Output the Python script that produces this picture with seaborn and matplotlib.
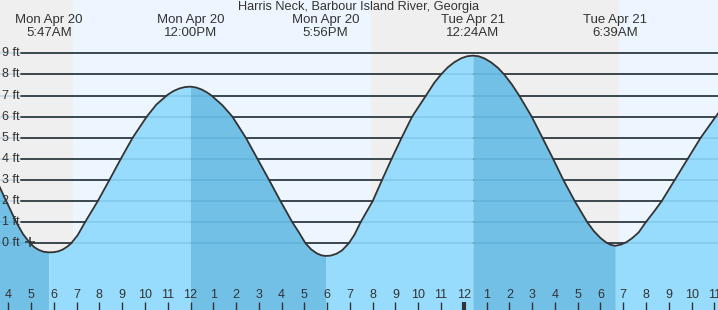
import matplotlib
matplotlib.use("Agg")
import matplotlib.pyplot as plt
import numpy as np
import pandas as pd
import seaborn as sns

title = "Harris Neck, Barbour Island River, Georgia"

tide_hours = [3.5, 3.65, 3.91, 4.13, 4.35, 4.65, 4.96, 5.15, 5.35, 5.55, 5.78, 6.0,
              6.2, 6.4, 6.6, 6.76, 7.05, 7.37, 7.65, 7.93, 8.44, 8.94, 9.46, 10.08,
              10.5, 11.0, 11.25, 11.5, 11.75, 12.0, 12.25, 12.5, 12.72, 12.92, 13.4,
              13.84, 14.43, 14.94, 15.45, 15.95, 16.47, 16.77, 17.05, 17.3, 17.55,
              17.75, 17.93, 18.15, 18.4, 18.65, 18.95, 19.2, 19.47, 20.0, 20.41,
              20.83, 21.27, 21.73, 22.34, 22.7, 23.0, 23.3, 23.6, 23.9, 24.15, 24.4,
              24.65, 24.9, 25.2, 25.5, 25.77, 26.1, 26.43, 26.98, 27.45, 27.92,
              28.37, 28.87, 29.42, 29.7, 30.0, 30.25, 30.45, 30.65, 30.9, 31.15,
              31.4, 31.68, 31.99, 32.35, 32.69, 33.26, 33.83, 34.4, 35.06, 35.3]
tide_ft = [2.95, 2.6, 2.0, 1.5, 1.0, 0.43, 0.0, -0.19, -0.32, -0.40, -0.43, -0.42,
           -0.38, -0.29, -0.15, 0.0, 0.39, 1.0, 1.5, 2.0, 3.0, 4.0, 5.0, 6.0,
           6.57, 7.04, 7.21, 7.33, 7.40, 7.42, 7.38, 7.28, 7.15, 7.0, 6.54,
           6.0, 5.0, 4.0, 3.0, 2.0, 1.0, 0.5, 0.0, -0.29, -0.48,
           -0.57, -0.6, -0.585, -0.5, -0.34, 0.0, 0.41, 1.0, 2.0, 3.0,
           4.0, 5.0, 6.0, 7.0, 7.6, 8.0, 8.34, 8.59, 8.77, 8.86, 8.89,
           8.86, 8.76, 8.57, 8.31, 8.0, 7.54, 7.0, 6.0, 5.0, 4.0,
           3.0, 2.0, 1.0, 0.59, 0.25, 0.04, -0.07, -0.12, -0.06, 0.06,
           0.25, 0.52, 1.0, 1.5, 2.0, 3.0, 4.0, 5.0, 6.0, 6.35]

extreme_hours = [5.78, 12.0, 17.93, 24.4, 30.65]
extreme_labels = ["Mon Apr 20\n5:47AM", "Mon Apr 20\n12:00PM", "Mon Apr 20\n5:56PM",
                  "Tue Apr 21\n12:24AM", "Tue Apr 21\n6:39AM"]

night_spans = [(3.0, 6.83), (19.91, 30.81)]
day_spans = [(6.83, 19.91), (30.81, 36.0)]

hour_ticks = list(range(4, 36))
hour_labels = [str((h - 1) % 12 + 1) for h in hour_ticks]
midnight_hour = 24

ft_levels = list(range(0, 10))
ft_labels = [f"{v} ft" for v in ft_levels]

now_hour, now_ft = 4.95, 0.05

# styling
X0, X1 = 3.636, 35.16
Y0, Y1 = -3.16, 11.525
NIGHT = "#efefef"
DAY = "#edf6fe"
WATER_RISE = "#97dcfd"
WATER_FALL = "#72c0e6"
INK = "#333333"

sns.set_theme(style="white")
plt.rcParams["font.family"] = ["Liberation Sans", "DejaVu Sans"]

fig = plt.figure(figsize=(7.18, 3.10), dpi=100)
ax = fig.add_axes([0, 0, 1, 1])
ax.set_xlim(X0, X1)
ax.set_ylim(Y0, Y1)
for s in ax.spines.values():
    s.set_visible(False)

for a, b in night_spans:
    ax.axvspan(a, b, color=NIGHT, lw=0, zorder=0)
for a, b in day_spans:
    ax.axvspan(a, b, color=DAY, lw=0, zorder=0)

line_start = 20.7 / 718
for v in ft_levels:
    ax.axhline(v, xmin=line_start, xmax=1, color=INK, lw=1.3, zorder=1)

df = pd.DataFrame({"hour": tide_hours, "ft": tide_ft})
t = np.array(tide_hours)
h = np.array(tide_ft)
bounds = [tide_hours[0]] + extreme_hours + [tide_hours[-1]]
for a, b in zip(bounds[:-1], bounds[1:]):
    m = (t >= a) & (t <= b)
    rising = h[m][-1] > h[m][0]
    ax.fill_between(t[m], h[m], Y0 - 1, color=WATER_RISE if rising else WATER_FALL,
                    lw=0, zorder=2)

for v in ft_levels:
    ax.axhline(v, xmin=0, xmax=1, color="#1d6f9e", alpha=0.16, lw=1.3, zorder=3)

sns.lineplot(data=df, x="hour", y="ft", ax=ax, color=INK, lw=1.3, sort=False,
             estimator=None, zorder=4)
ax.plot([now_hour], [now_ft], marker="+", ms=7, mew=1.1, color=INK, zorder=5)

for v, lab in zip(ft_levels, ft_labels):
    ax.text(0.003, v, lab, transform=ax.get_yaxis_transform(), ha="left", va="center",
            fontsize=9, color=INK, zorder=6)

for xh, lab in zip(extreme_hours, extreme_labels):
    ax.text(xh, 1 - 26.5 / 310, lab, transform=ax.get_xaxis_transform(), ha="center",
            va="center", fontsize=9.5, color=INK, linespacing=1.0, zorder=6)

fig.text(0.5, 1 - 7 / 310, title, ha="center", va="center", fontsize=9.2, color=INK)

ax.set_yticks([])
ax.set_xticks(hour_ticks, hour_labels)
ax.tick_params(axis="x", direction="in", length=5.8, width=1, color=INK, pad=-15,
               labelsize=9, labelcolor=INK, bottom=True)
for tk, hr in zip(ax.xaxis.get_major_ticks(), hour_ticks):
    if hr == midnight_hour:
        tk.tick1line.set_markeredgewidth(3)
ax.set_xlabel("")
ax.set_ylabel("")
ax.grid(False)
ax.set_axisbelow(False)
ax.xaxis.set_zorder(7)

fig.savefig("out.png", dpi=100)
